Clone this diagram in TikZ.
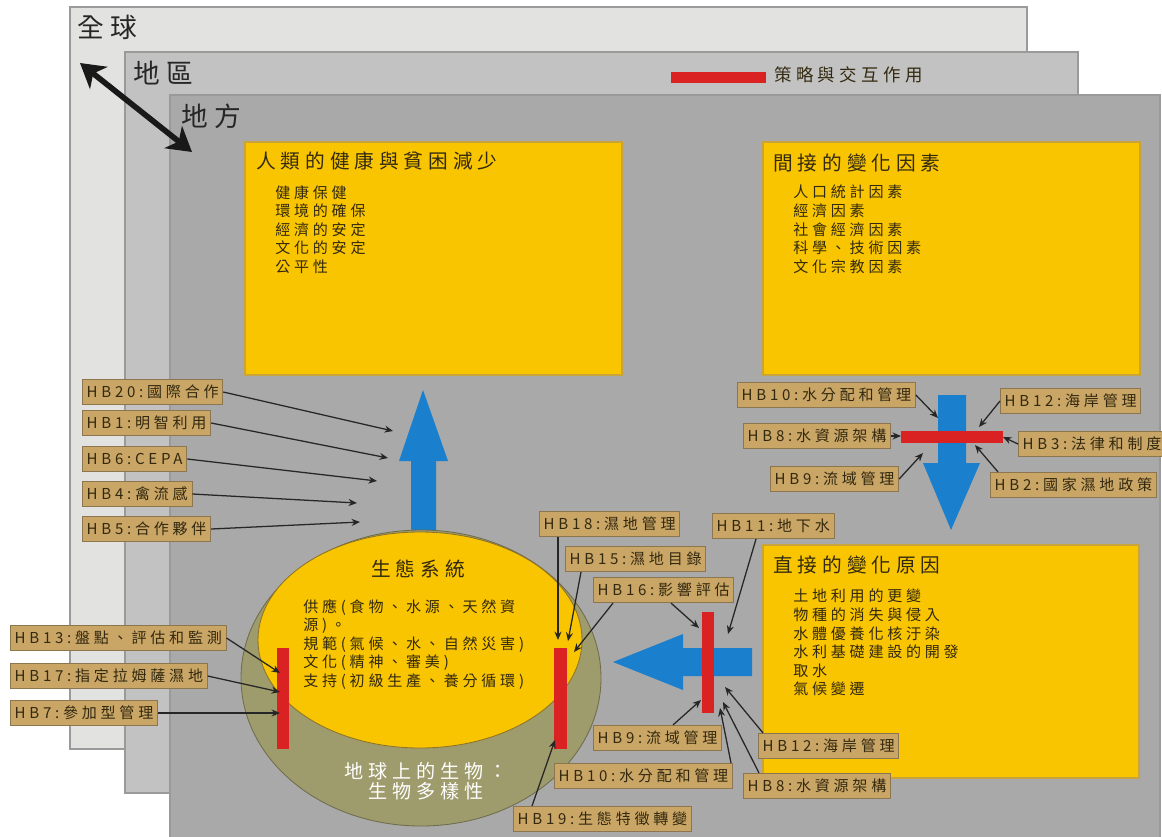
\documentclass[tikz,border=0pt]{standalone}
\usepackage{fontspec}
\newfontfamily\cjk[LetterSpace=25]{Noto Sans CJK TC}
\usetikzlibrary{arrows.meta,calc}

\definecolor{globe}{HTML}{E2E3E0}
\definecolor{region}{HTML}{C2C2C2}
\definecolor{local}{HTML}{A9A9A9}
\definecolor{panelline}{HTML}{9A9A9A}
\definecolor{boxyellow}{HTML}{F9C500}
\definecolor{boxline}{HTML}{C9A43A}
\definecolor{hbtan}{HTML}{C9A566}
\definecolor{tanline}{HTML}{8C7650}
\definecolor{ink}{HTML}{33290F}
\definecolor{flowblue}{HTML}{1A80CE}
\definecolor{barred}{HTML}{DB2222}
\definecolor{olive}{HTML}{9E9B6C}

\tikzset{
	panel/.style={fill=#1, draw=panelline, line width=0.8pt},
	panellabel/.style={font=\cjk\fontsize{19}{22}\selectfont, anchor=west, inner sep=0pt, text=black!85},
	factorbox/.style={fill=boxyellow, draw=boxline, line width=0.8pt},
	boxtitle/.style={font=\cjk\fontsize{14}{16}\selectfont, anchor=west, inner sep=0pt, text=ink},
	boxitems/.style={font=\cjk\fontsize{10.7}{13.2}\selectfont, anchor=north west, align=left, inner sep=0pt, text=ink},
	hb/.style={fill=hbtan, draw=tanline, line width=0.6pt, anchor=west, font=\cjk\fontsize{10.7}{13}\selectfont, text=ink, inner xsep=3pt, inner ysep=0pt, minimum height=18pt},
	hbarrow/.style={-{Stealth[length=6pt,width=5pt]}, line width=0.9pt, draw=black!85},
	bar/.style={fill=barred},
	flow/.style={fill=flowblue}
}

\begin{document}
\begin{tikzpicture}[x=0.025cm,y=-0.025cm]
	\useasboundingbox (0,0) rectangle (1162,836);

	% global / regional / local
	\draw[panel=globe] (70,7) rectangle (1027,749);
	\draw[panel=region] (125,52) rectangle (1078,793);
	\draw[panel=local] (170,95) rectangle (1160,845);
	\node[panellabel] (global) at (77,27) {全球};
	\node[panellabel] (regional) at (133,73) {地區};
	\node[panellabel] (locallabel) at (181,116) {地方};

	\coordinate (scaletop) at (80,63);
	\coordinate (scalebot) at (192,152);
	\draw[line width=4pt, black!90, {Stealth[length=17pt,width=20pt,inset=5pt]}-{Stealth[length=17pt,width=20pt,inset=5pt]}] (scaletop) -- (scalebot);

	% legend
	\fill[bar] (671,72) rectangle (766,83);
	\node[font=\cjk\fontsize{12.4}{14}\selectfont, anchor=west, inner sep=0pt, text=ink] (legend) at (774,75) {策略與交互作用};

	% yellow boxes
	\draw[factorbox] (245,142) rectangle (622,375);
	\node[boxtitle] (welltitle) at (256,161) {人類的健康與貧困減少};
	\node[boxitems] (wellitems) at (275,185) {健康保健\\環境的確保\\經濟的安定\\文化的安定\\公平性};

	\draw[factorbox] (763,142) rectangle (1140,375);
	\node[boxtitle] (indtitle) at (773,163) {間接的變化因素};
	\node[boxitems] (inditems) at (793,185) {人口統計因素\\經濟因素\\社會經濟因素\\科學、技術因素\\文化宗教因素};

	\draw[factorbox] (763,545) rectangle (1139,778);
	\node[boxtitle] (dirtitle) at (773,565) {直接的變化原因};
	\node[boxitems] (diritems) at (793,589) {土地利用的更變\\物種的消失與侵入\\水體優養化核汙染\\水利基礎建設的開發\\取水\\氣候變遷};

	% blue arrows
	\fill[flow] (411,545) -- (411,461) -- (399,461) -- (423,390) -- (448,461) -- (436,461) -- (436,545) -- cycle;
	\fill[flow] (938,395) -- (966,395) -- (966,463) -- (980,463) -- (951,530) -- (923,463) -- (938,463) -- cycle;
	\fill[flow] (752,648) -- (752,676) -- (683,676) -- (683,690) -- (613,662) -- (683,634) -- (683,648) -- cycle;

	% ecosystem
	\filldraw[fill=olive, draw=olive!70!black, line width=0.6pt] (421,678) ellipse (180 and 148);
	\filldraw[fill=boxyellow, draw=boxline!70!black, line width=0.6pt] (420,640) ellipse (162 and 108);
	\node[font=\cjk\fontsize{14}{16}\selectfont, text=ink] (ecotitle) at (418,569) {生態系統};
	\node[boxitems] (ecoitems) at (303,599) {供應(食物、水源、天然資\\源)。\\規範(氣候、水、自然災害)\\文化(精神、審美)\\支持(初級生產、養分循環)};
	\node[font=\cjk\fontsize{13.6}{14.4}\selectfont, text=white, align=center] (biodiv) at (426,781) {地球上的生物：\\生物多樣性};

	% strategies
	\fill[bar] (901,431) rectangle (1003,443);
	\fill[bar] (277,648) rectangle (289,749);
	\fill[bar] (554,648) rectangle (567,749);
	\fill[bar] (702,612) rectangle (714,713);

	\node[hb] (hb20) at (82,392) {HB20:國際合作};
	\node[hb] (hb1) at (82,423) {HB1:明智利用};
	\node[hb] (hb6) at (82,459) {HB6:CEPA};
	\node[hb] (hb4) at (82,494) {HB4:禽流感};
	\node[hb] (hb5) at (82,529) {HB5:合作夥伴};
	\coordinate (t20) at (393,431);
	\coordinate (t1) at (388,458);
	\coordinate (t6) at (377,481);
	\coordinate (t4) at (357,503);
	\coordinate (t5) at (360,522);
	\draw[hbarrow] (hb20.east) -- (t20);
	\draw[hbarrow] (hb1.east) -- (t1);
	\draw[hbarrow] (hb6.east) -- (t6);
	\draw[hbarrow] (hb4.east) -- (t4);
	\draw[hbarrow] (hb5.east) -- (t5);

	\node[hb] (hb13) at (10,638) {HB13:盤點、評估和監測};
	\node[hb] (hb17) at (10,676) {HB17:指定拉姆薩濕地};
	\node[hb] (hb7) at (10,713) {HB7:參加型管理};
	\coordinate (t13) at (280,673);
	\coordinate (t17) at (280,692);
	\coordinate (t7) at (280,713);
	\draw[hbarrow] (hb13.east) -- (t13);
	\draw[hbarrow] (hb17.east) -- (t17);
	\draw[hbarrow] (hb7.east) -- (t7);

	\node[hb] (hb18) at (539,524) {HB18:濕地管理};
	\node[hb] (hb15) at (565,559) {HB15:濕地目錄};
	\node[hb] (hb16) at (593,590) {HB16:影響評估};
	\node[hb] (hb11) at (712,526) {HB11:地下水};
	\node[hb] (hb9b) at (593,738) {HB9:流域管理};
	\node[hb] (hb10b) at (554,776) {HB10:水分配和管理};
	\node[hb] (hb12b) at (758,746) {HB12:海岸管理};
	\node[hb] (hb8b) at (743,786) {HB8:水資源架構};
	\node[hb] (hb19) at (513,819) {HB19:生態特徵轉變};
	\coordinate (t18) at (558,640);
	\coordinate (t15) at (568,641);
	\coordinate (t16a) at (574,652);
	\coordinate (t16b) at (699,628);
	\coordinate (t11) at (728,634);
	\coordinate (t9b) at (701,700);
	\coordinate (t10b) at (720,708);
	\coordinate (t12b) at (725,687);
	\coordinate (t8b) at (723,702);
	\coordinate (t19) at (555,740);
	\draw[hbarrow] ($(hb18.south west)+(19,0)$) -- (t18);
	\draw[hbarrow] ($(hb15.south west)+(16,0)$) -- (t15);
	\draw[hbarrow] ($(hb16.south west)+(20,0)$) -- (t16a);
	\draw[hbarrow] ($(hb16.south west)+(78,0)$) -- (t16b);
	\draw[hbarrow] ($(hb11.south west)+(44,0)$) -- (t11);
	\draw[hbarrow] ($(hb9b.north west)+(80,0)$) -- (t9b);
	\draw[hbarrow] ($(hb10b.north west)+(177,0)$) -- (t10b);
	\draw[hbarrow] ($(hb12b.north west)+(5,0)$) -- (t12b);
	\draw[hbarrow] ($(hb8b.north west)+(16,0)$) -- (t8b);
	\draw[hbarrow] ($(hb19.north west)+(19,0)$) -- (t19);

	\node[hb] (hb10a) at (737,395) {HB10:水分配和管理};
	\node[hb] (hb12a) at (1000,401) {HB12:海岸管理};
	\node[hb] (hb8a) at (743,436) {HB8:水資源架構};
	\node[hb] (hb3) at (1018,444) {HB3:法律和制度};
	\node[hb] (hb9a) at (770,479) {HB9:流域管理};
	\node[hb] (hb2) at (990,485) {HB2:國家濕地政策};
	\coordinate (t10a) at (938,418);
	\coordinate (t12a) at (979,427);
	\coordinate (t8a) at (901,436);
	\coordinate (t3) at (1003,437);
	\coordinate (t9a) at (923,453);
	\coordinate (t2) at (975,445);
	\draw[hbarrow] (hb10a.east) -- (t10a);
	\draw[hbarrow] (hb12a.west) -- (t12a);
	\draw[hbarrow] (hb8a.east) -- (t8a);
	\draw[hbarrow] (hb3.west) -- (t3);
	\draw[hbarrow] (hb9a.east) -- (t9a);
	\draw[hbarrow] ($(hb2.north west)+(8,0)$) -- (t2);
\end{tikzpicture}
\end{document}
